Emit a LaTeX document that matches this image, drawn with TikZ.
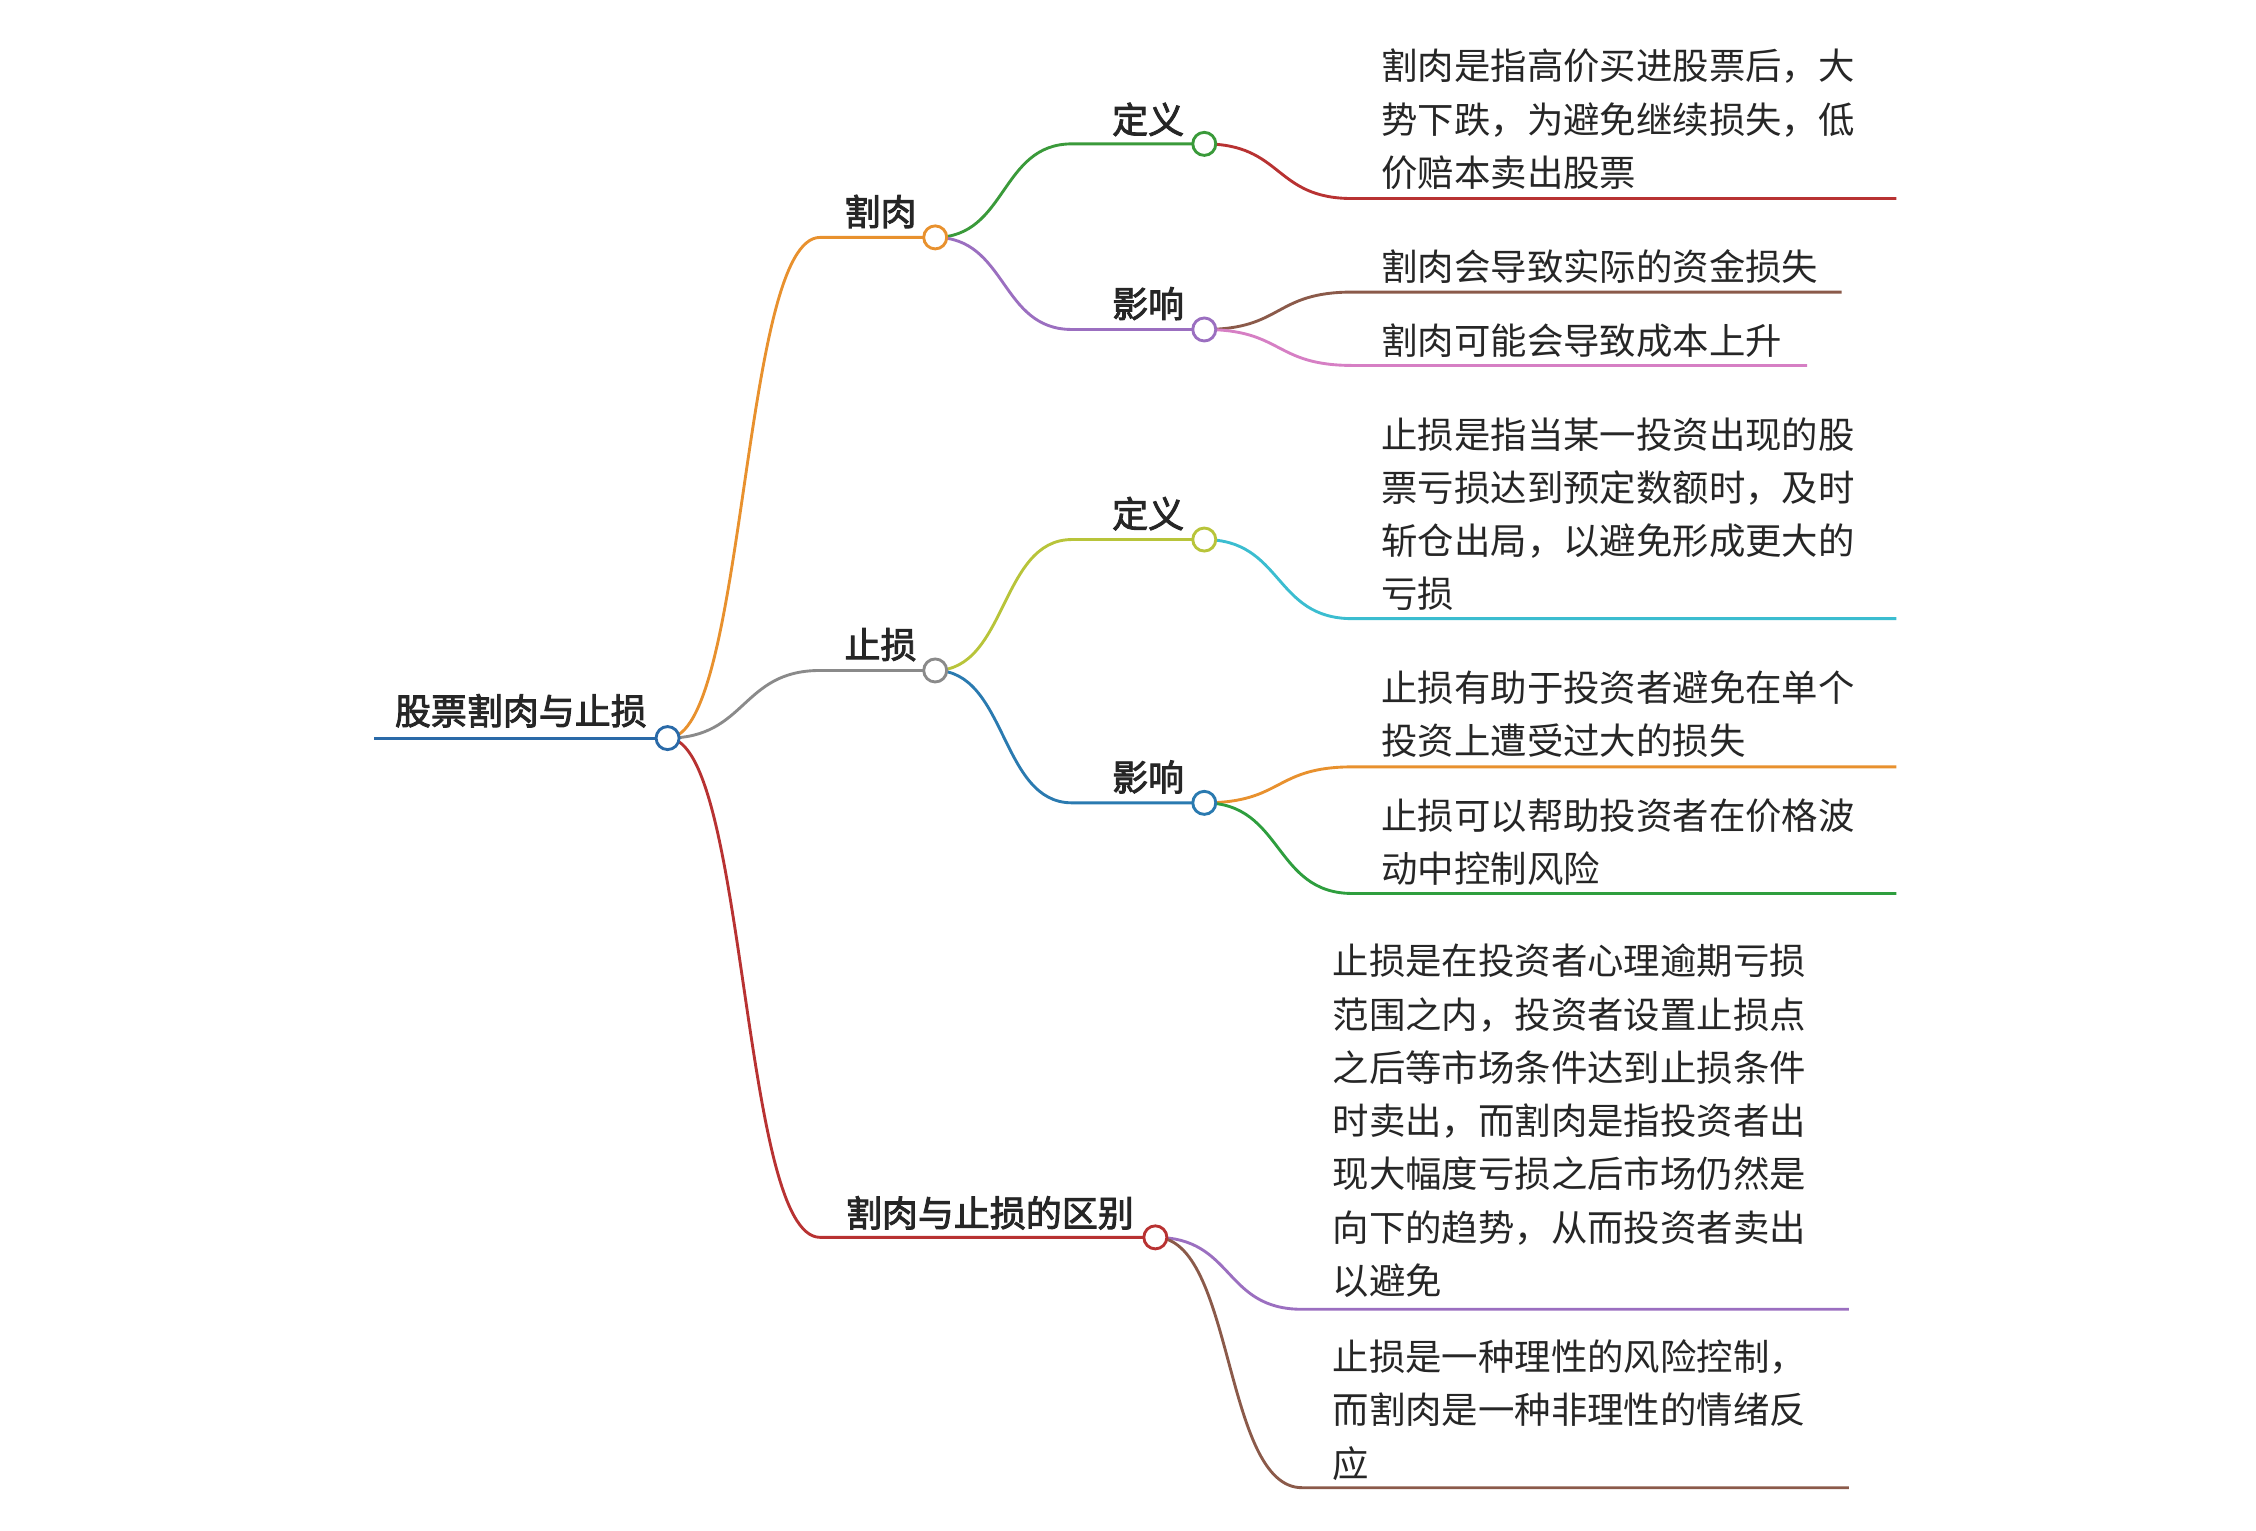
\documentclass[tikz,border=0pt]{standalone}
\usepackage{fontspec}
\setmainfont[AutoFakeBold=2.5]{Noto Sans CJK SC}
\definecolor{cRoot}{HTML}{2A6AA8}
\definecolor{cOr}{HTML}{E8912E}
\definecolor{cGr}{HTML}{8A8A8A}
\definecolor{cRed}{HTML}{B83232}
\definecolor{cGreen}{HTML}{3A9A3A}
\definecolor{cPur}{HTML}{9B6FC0}
\definecolor{cBr}{HTML}{8B5A4A}
\definecolor{cPink}{HTML}{D67FC4}
\definecolor{cYg}{HTML}{B8C43A}
\definecolor{cBlue}{HTML}{2A7AB0}
\definecolor{cCyan}{HTML}{3BBDD0}
\definecolor{cGreen2}{HTML}{2E9E3E}
\tikzset{
  lbl/.style={font=\fontsize{25}{30}\selectfont\bfseries, inner sep=0pt, text=black!85},
  txt/.style={font=\fontsize{25.3}{37}\selectfont, inner sep=0pt, anchor=north west, align=left, text=black!85},
  br/.style={line width=2pt},
  dot/.style={circle, minimum size=16pt, inner sep=0pt, fill=white, line width=2pt}
}
\newcommand{\conn}[5]{% color, from, corner, end, half dx
  \draw[br,#1] (#2) .. controls +(#5,0) and +(-#5,0) .. (#3) -- (#4);}
\begin{document}
\begin{tikzpicture}[x=1pt,y=-1pt]
\useasboundingbox (0,0) rectangle (1568,1064);
\coordinate (r) at (464,513);
\coordinate (a) at (650,165);
\coordinate (b) at (650,466);
\coordinate (c) at (803,860);
\coordinate (a1) at (837,100);
\coordinate (a2) at (837,229);
\coordinate (b1) at (837,375);
\coordinate (b2) at (837,558);
\coordinate (ac) at (570,165); \coordinate (bc) at (570,466); \coordinate (cc) at (570,860);
\coordinate (a1c) at (745,100); \coordinate (a2c) at (745,229);
\coordinate (b1c) at (745,375); \coordinate (b2c) at (745,558);
\coordinate (l1c) at (940,138); \coordinate (l1e) at (1318,138);
\coordinate (l2c) at (940,203); \coordinate (l2e) at (1280,203);
\coordinate (l3c) at (940,254); \coordinate (l3e) at (1256,254);
\coordinate (l4c) at (940,430); \coordinate (l4e) at (1318,430);
\coordinate (l5c) at (940,533); \coordinate (l5e) at (1318,533);
\coordinate (l6c) at (940,621); \coordinate (l6e) at (1318,621);
\coordinate (l7c) at (905,910); \coordinate (l7e) at (1285,910);
\coordinate (l8c) at (905,1034); \coordinate (l8e) at (1285,1034);
\coordinate (r0) at (260,513);
\draw[br,cRoot] (r0) -- (r);
\conn{cOr}{r}{ac}{a}{55}
\conn{cGr}{r}{bc}{b}{55}
\conn{cRed}{r}{cc}{c}{55}
\conn{cGreen}{a}{a1c}{a1}{50}
\conn{cPur}{a}{a2c}{a2}{50}
\conn{cYg}{b}{b1c}{b1}{50}
\conn{cBlue}{b}{b2c}{b2}{50}
\conn{cRed}{a1}{l1c}{l1e}{55}
\conn{cBr}{a2}{l2c}{l2e}{55}
\conn{cPink}{a2}{l3c}{l3e}{55}
\conn{cCyan}{b1}{l4c}{l4e}{55}
\conn{cOr}{b2}{l5c}{l5e}{55}
\conn{cGreen2}{b2}{l6c}{l6e}{55}
\conn{cPur}{c}{l7c}{l7e}{55}
\conn{cBr}{c}{l8c}{l8e}{55}
\node[dot,draw=cRoot] (rd) at (r) {};
\node[dot,draw=cOr] (ad) at (a) {};
\node[dot,draw=cGr] (bd) at (b) {};
\node[dot,draw=cRed] (cd) at (c) {};
\node[dot,draw=cGreen] (a1d) at (a1) {};
\node[dot,draw=cPur] (a2d) at (a2) {};
\node[dot,draw=cYg] (b1d) at (b1) {};
\node[dot,draw=cBlue] (b2d) at (b2) {};
\node[lbl] (tr) at (362,494) {股票割肉与止损};
\node[lbl] (ta) at (612,147) {割肉};
\node[lbl] (tb) at (612,448) {止损};
\node[lbl] (tc) at (688,843) {割肉与止损的区别};
\node[lbl] (ta1) at (798,83) {定义};
\node[lbl] (ta2) at (798,211) {影响};
\node[lbl] (tb1) at (798,357) {定义};
\node[lbl] (tb2) at (798,540) {影响};
\node[txt] (x1) at (960,34) {割肉是指高价买进股票后，大\\势下跌，为避免继续损失，低\\价赔本卖出股票};
\node[txt] (x2) at (960,173) {割肉会导致实际的资金损失};
\node[txt] (x3) at (960,225) {割肉可能会导致成本上升};
\node[txt] (x4) at (960,290) {止损是指当某一投资出现的股\\票亏损达到预定数额时，及时\\斩仓出局，以避免形成更大的\\亏损};
\node[txt] (x5) at (960,466) {止损有助于投资者避免在单个\\投资上遭受过大的损失};
\node[txt] (x6) at (960,555) {止损可以帮助投资者在价格波\\动中控制风险};
\node[txt] (x7) at (926,656) {止损是在投资者心理逾期亏损\\范围之内，投资者设置止损点\\之后等市场条件达到止损条件\\时卖出，而割肉是指投资者出\\现大幅度亏损之后市场仍然是\\向下的趋势，从而投资者卖出\\以避免};
\node[txt] (x8) at (926,931) {止损是一种理性的风险控制，\\而割肉是一种非理性的情绪反\\应};
\end{tikzpicture}
\end{document}
